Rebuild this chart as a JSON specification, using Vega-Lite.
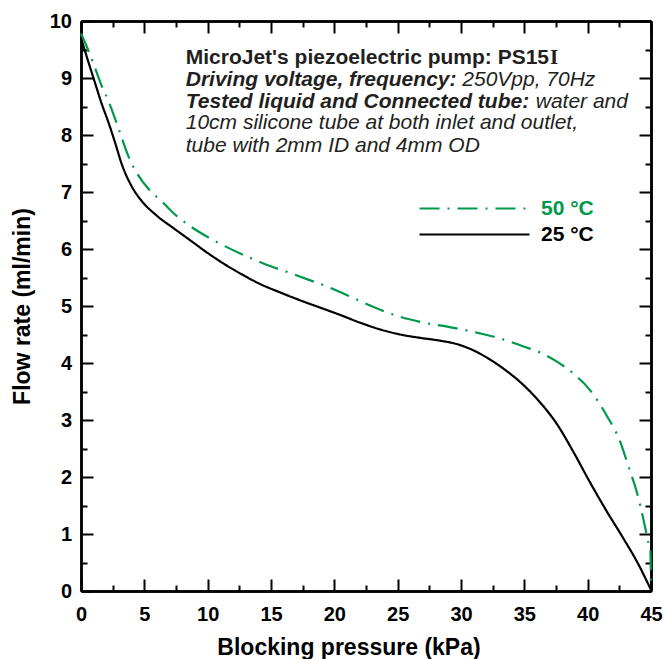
{
  "$schema": "https://vega.github.io/schema/vega-lite/v6.json",
  "width": 570,
  "height": 570,
  "autosize": {"type": "none"},
  "padding": {"left": 81, "top": 21, "right": 13, "bottom": 68},
  "background": "white",
  "config": {
    "view": {"stroke": null},
    "axis": {
      "grid": false,
      "domainColor": "black",
      "domainWidth": 2.5,
      "tickColor": "black",
      "tickWidth": 2,
      "labelFont": "Liberation Sans",
      "labelFontSize": 20,
      "labelFontWeight": "bold",
      "labelColor": "black",
      "labelFlush": false,
      "labelOverlap": false,
      "titleFont": "Liberation Sans",
      "titleFontSize": 23,
      "titleFontWeight": "bold",
      "titleColor": "black"
    }
  },
  "resolve": {"axis": {"x": "independent", "y": "independent"}},
  "layer": [
    {
      "data": {
        "values": [
          {"pressure": 0, "flow": 9.7, "temp": "25 °C"},
          {"pressure": 0.6, "flow": 9.27, "temp": "25 °C"},
          {"pressure": 1.1, "flow": 8.92, "temp": "25 °C"},
          {"pressure": 1.6, "flow": 8.57, "temp": "25 °C"},
          {"pressure": 2.2, "flow": 8.2, "temp": "25 °C"},
          {"pressure": 2.7, "flow": 7.86, "temp": "25 °C"},
          {"pressure": 3.2, "flow": 7.5, "temp": "25 °C"},
          {"pressure": 4.0, "flow": 7.1, "temp": "25 °C"},
          {"pressure": 4.8, "flow": 6.84, "temp": "25 °C"},
          {"pressure": 5.9, "flow": 6.6, "temp": "25 °C"},
          {"pressure": 7.4, "flow": 6.35, "temp": "25 °C"},
          {"pressure": 8.7, "flow": 6.14, "temp": "25 °C"},
          {"pressure": 10.0, "flow": 5.93, "temp": "25 °C"},
          {"pressure": 11.0, "flow": 5.78, "temp": "25 °C"},
          {"pressure": 12.5, "flow": 5.58, "temp": "25 °C"},
          {"pressure": 14.1, "flow": 5.39, "temp": "25 °C"},
          {"pressure": 15.7, "flow": 5.24, "temp": "25 °C"},
          {"pressure": 17.3, "flow": 5.1, "temp": "25 °C"},
          {"pressure": 18.9, "flow": 4.97, "temp": "25 °C"},
          {"pressure": 20.5, "flow": 4.84, "temp": "25 °C"},
          {"pressure": 22.0, "flow": 4.71, "temp": "25 °C"},
          {"pressure": 23.6, "flow": 4.59, "temp": "25 °C"},
          {"pressure": 25.2, "flow": 4.5, "temp": "25 °C"},
          {"pressure": 26.8, "flow": 4.44, "temp": "25 °C"},
          {"pressure": 28.4, "flow": 4.39, "temp": "25 °C"},
          {"pressure": 29.7, "flow": 4.33, "temp": "25 °C"},
          {"pressure": 31.0, "flow": 4.22, "temp": "25 °C"},
          {"pressure": 32.3, "flow": 4.06, "temp": "25 °C"},
          {"pressure": 33.6, "flow": 3.86, "temp": "25 °C"},
          {"pressure": 34.9, "flow": 3.62, "temp": "25 °C"},
          {"pressure": 36.0, "flow": 3.37, "temp": "25 °C"},
          {"pressure": 37.6, "flow": 2.92, "temp": "25 °C"},
          {"pressure": 38.9, "flow": 2.43, "temp": "25 °C"},
          {"pressure": 40.2, "flow": 1.9, "temp": "25 °C"},
          {"pressure": 41.5, "flow": 1.4, "temp": "25 °C"},
          {"pressure": 42.8, "flow": 0.93, "temp": "25 °C"},
          {"pressure": 44.0, "flow": 0.47, "temp": "25 °C"},
          {"pressure": 45.0, "flow": 0.02, "temp": "25 °C"},
          {"pressure": 0, "flow": 9.78, "temp": "50 °C"},
          {"pressure": 0.55, "flow": 9.5, "temp": "50 °C"},
          {"pressure": 1.1, "flow": 9.18, "temp": "50 °C"},
          {"pressure": 1.6, "flow": 8.88, "temp": "50 °C"},
          {"pressure": 2.2, "flow": 8.58, "temp": "50 °C"},
          {"pressure": 2.7, "flow": 8.28, "temp": "50 °C"},
          {"pressure": 3.2, "flow": 7.96, "temp": "50 °C"},
          {"pressure": 3.7, "flow": 7.65, "temp": "50 °C"},
          {"pressure": 4.5, "flow": 7.3, "temp": "50 °C"},
          {"pressure": 5.3, "flow": 7.06, "temp": "50 °C"},
          {"pressure": 6.4, "flow": 6.83, "temp": "50 °C"},
          {"pressure": 7.4, "flow": 6.61, "temp": "50 °C"},
          {"pressure": 8.5, "flow": 6.42, "temp": "50 °C"},
          {"pressure": 10.0, "flow": 6.21, "temp": "50 °C"},
          {"pressure": 11.0, "flow": 6.09, "temp": "50 °C"},
          {"pressure": 13.3, "flow": 5.85, "temp": "50 °C"},
          {"pressure": 14.7, "flow": 5.72, "temp": "50 °C"},
          {"pressure": 16.5, "flow": 5.58, "temp": "50 °C"},
          {"pressure": 18.1, "flow": 5.45, "temp": "50 °C"},
          {"pressure": 19.9, "flow": 5.3, "temp": "50 °C"},
          {"pressure": 21.0, "flow": 5.19, "temp": "50 °C"},
          {"pressure": 22.6, "flow": 5.03, "temp": "50 °C"},
          {"pressure": 23.9, "flow": 4.91, "temp": "50 °C"},
          {"pressure": 25.2, "flow": 4.81, "temp": "50 °C"},
          {"pressure": 26.8, "flow": 4.72, "temp": "50 °C"},
          {"pressure": 29.1, "flow": 4.63, "temp": "50 °C"},
          {"pressure": 31.5, "flow": 4.52, "temp": "50 °C"},
          {"pressure": 33.1, "flow": 4.43, "temp": "50 °C"},
          {"pressure": 35.2, "flow": 4.27, "temp": "50 °C"},
          {"pressure": 36.3, "flow": 4.18, "temp": "50 °C"},
          {"pressure": 37.6, "flow": 4.02, "temp": "50 °C"},
          {"pressure": 38.9, "flow": 3.81, "temp": "50 °C"},
          {"pressure": 40.2, "flow": 3.52, "temp": "50 °C"},
          {"pressure": 41.5, "flow": 3.08, "temp": "50 °C"},
          {"pressure": 42.6, "flow": 2.6, "temp": "50 °C"},
          {"pressure": 43.2, "flow": 2.2, "temp": "50 °C"},
          {"pressure": 43.9, "flow": 1.72, "temp": "50 °C"},
          {"pressure": 44.4, "flow": 1.26, "temp": "50 °C"},
          {"pressure": 44.8, "flow": 0.84, "temp": "50 °C"},
          {"pressure": 44.95, "flow": 0.7, "temp": "50 °C"},
          {"pressure": 45.0, "flow": 0.05, "temp": "50 °C"}
        ]
      },
      "mark": {"type": "line", "strokeWidth": 2.2, "interpolate": "monotone"},
      "encoding": {
        "x": {
          "field": "pressure", "type": "quantitative",
          "scale": {"domain": [0, 45], "nice": false, "zero": false},
          "axis": {"orient": "bottom", "values": [0, 5, 10, 15, 20, 25, 30, 35, 40, 45], "tickSize": -12, "labelPadding": 25, "title": "Blocking pressure (kPa)", "titlePadding": 12, "titleX": 267.5}
        },
        "y": {
          "field": "flow", "type": "quantitative",
          "scale": {"domain": [0, 10], "nice": false, "zero": false},
          "axis": {"orient": "left", "values": [0, 1, 2, 3, 4, 5, 6, 7, 8, 9, 10], "tickSize": -12, "labelPadding": 21.5, "title": "Flow rate (ml/min)", "titlePadding": 15}
        },
        "color": {
          "field": "temp", "type": "nominal",
          "scale": {"domain": ["50 °C", "25 °C"], "range": ["#00994C", "#000000"]},
          "legend": {"title": null, "orient": "none", "legendX": 382, "legendY": 176, "symbolType": "M-5.5,0H5.5", "symbolSize": 400, "symbolStrokeWidth": 2.2, "labelFont": "Liberation Sans", "labelFontSize": 21, "labelFontWeight": "bold", "labelOffset": 55, "rowPadding": 4, "padding": 0,
            "encode": {"labels": {"update": {"fill": {"signal": "datum.value === '50 °C' ? '#00994C' : '#000000'"}}}}}
        },
        "strokeDash": {
          "field": "temp", "type": "nominal",
          "scale": {"domain": ["50 °C", "25 °C"], "range": [[20, 8, 2, 8], [1, 0]]},
          "legend": {"title": null, "orient": "none", "legendX": 382, "legendY": 176, "symbolType": "M-5.5,0H5.5", "symbolSize": 400, "symbolStrokeWidth": 2.2, "labelFont": "Liberation Sans", "labelFontSize": 21, "labelFontWeight": "bold", "labelOffset": 55, "rowPadding": 4, "padding": 0,
            "encode": {"labels": {"update": {"fill": {"signal": "datum.value === '50 °C' ? '#00994C' : '#000000'"}}}}}
        }
      }
    },
    {
      "data": {"values": [{"t": "MicroJet's piezoelectric pump: PS15"}]},
      "mark": {"type": "text", "align": "left", "baseline": "alphabetic", "font": "Liberation Sans", "fontSize": 21, "fontWeight": "bold", "color": "#231f20"},
      "encoding": {
        "x": {"datum": 8.27, "type": "quantitative", "scale": {"domain": [0, 45], "nice": false, "zero": false},
          "axis": {"orient": "bottom", "values": [2.5, 7.5, 12.5, 17.5, 22.5, 27.5, 32.5, 37.5, 42.5], "tickSize": -6, "labels": false, "title": null}},
        "y": {"datum": 9.25, "type": "quantitative", "scale": {"domain": [0, 10], "nice": false, "zero": false},
          "axis": {"orient": "left", "values": [0.5, 1.5, 2.5, 3.5, 4.5, 5.5, 6.5, 7.5, 8.5, 9.5], "tickSize": -6, "labels": false, "title": null}},
        "text": {"field": "t"}
      }
    },
    {
      "data": {"values": [{"t": "I"}]},
      "mark": {"type": "text", "align": "left", "baseline": "alphabetic", "font": "Liberation Serif", "fontSize": 21, "fontWeight": "bold", "color": "#231f20"},
      "encoding": {
        "x": {"datum": 37.03, "type": "quantitative", "scale": {"domain": [0, 45], "nice": false, "zero": false},
          "axis": {"orient": "top", "values": [0, 5, 10, 15, 20, 25, 30, 35, 40, 45], "tickSize": -12, "labels": false, "title": null}},
        "y": {"datum": 9.25, "type": "quantitative", "scale": {"domain": [0, 10], "nice": false, "zero": false},
          "axis": {"orient": "right", "values": [0, 1, 2, 3, 4, 5, 6, 7, 8, 9, 10], "tickSize": -12, "labels": false, "title": null}},
        "text": {"field": "t"}
      }
    },
    {
      "data": {"values": [{"t": "Driving voltage, frequency:"}]},
      "mark": {"type": "text", "align": "left", "baseline": "alphabetic", "font": "Liberation Sans", "fontSize": 21, "fontWeight": "bold", "fontStyle": "italic", "color": "#231f20"},
      "encoding": {
        "x": {"datum": 8.27, "type": "quantitative", "scale": {"domain": [0, 45], "nice": false, "zero": false},
          "axis": {"orient": "top", "values": [2.5, 7.5, 12.5, 17.5, 22.5, 27.5, 32.5, 37.5, 42.5], "tickSize": -6, "labels": false, "title": null}},
        "y": {"datum": 8.86, "type": "quantitative", "scale": {"domain": [0, 10], "nice": false, "zero": false},
          "axis": {"orient": "right", "values": [0.5, 1.5, 2.5, 3.5, 4.5, 5.5, 6.5, 7.5, 8.5, 9.5], "tickSize": -6, "labels": false, "title": null}},
        "text": {"field": "t"}
      }
    },
    {
      "data": {"values": [{"t": "250Vpp, 70Hz"}]},
      "mark": {"type": "text", "align": "left", "baseline": "alphabetic", "font": "Liberation Sans", "fontSize": 21, "fontStyle": "italic", "color": "#231f20"},
      "encoding": {
        "x": {"datum": 30.1, "type": "quantitative", "scale": {"domain": [0, 45], "nice": false, "zero": false}, "axis": null},
        "y": {"datum": 8.86, "type": "quantitative", "scale": {"domain": [0, 10], "nice": false, "zero": false}, "axis": null},
        "text": {"field": "t"}
      }
    },
    {
      "data": {"values": [{"t": "Tested liquid and Connected tube:"}]},
      "mark": {"type": "text", "align": "left", "baseline": "alphabetic", "font": "Liberation Sans", "fontSize": 21, "fontWeight": "bold", "fontStyle": "italic", "color": "#231f20"},
      "encoding": {
        "x": {"datum": 8.27, "type": "quantitative", "scale": {"domain": [0, 45], "nice": false, "zero": false}, "axis": null},
        "y": {"datum": 8.48, "type": "quantitative", "scale": {"domain": [0, 10], "nice": false, "zero": false}, "axis": null},
        "text": {"field": "t"}
      }
    },
    {
      "data": {"values": [{"t": "water and"}]},
      "mark": {"type": "text", "align": "left", "baseline": "alphabetic", "font": "Liberation Sans", "fontSize": 21, "fontStyle": "italic", "color": "#231f20"},
      "encoding": {
        "x": {"datum": 35.9, "type": "quantitative", "scale": {"domain": [0, 45], "nice": false, "zero": false}, "axis": null},
        "y": {"datum": 8.48, "type": "quantitative", "scale": {"domain": [0, 10], "nice": false, "zero": false}, "axis": null},
        "text": {"field": "t"}
      }
    },
    {
      "data": {"values": [{"t": "10cm silicone tube at both inlet and outlet,"}]},
      "mark": {"type": "text", "align": "left", "baseline": "alphabetic", "font": "Liberation Sans", "fontSize": 21, "fontStyle": "italic", "color": "#231f20"},
      "encoding": {
        "x": {"datum": 8.27, "type": "quantitative", "scale": {"domain": [0, 45], "nice": false, "zero": false}, "axis": null},
        "y": {"datum": 8.1, "type": "quantitative", "scale": {"domain": [0, 10], "nice": false, "zero": false}, "axis": null},
        "text": {"field": "t"}
      }
    },
    {
      "data": {"values": [{"t": "tube with 2mm ID and 4mm OD"}]},
      "mark": {"type": "text", "align": "left", "baseline": "alphabetic", "font": "Liberation Sans", "fontSize": 21, "fontStyle": "italic", "color": "#231f20"},
      "encoding": {
        "x": {"datum": 8.27, "type": "quantitative", "scale": {"domain": [0, 45], "nice": false, "zero": false}, "axis": null},
        "y": {"datum": 7.71, "type": "quantitative", "scale": {"domain": [0, 10], "nice": false, "zero": false}, "axis": null},
        "text": {"field": "t"}
      }
    }
  ]
}
